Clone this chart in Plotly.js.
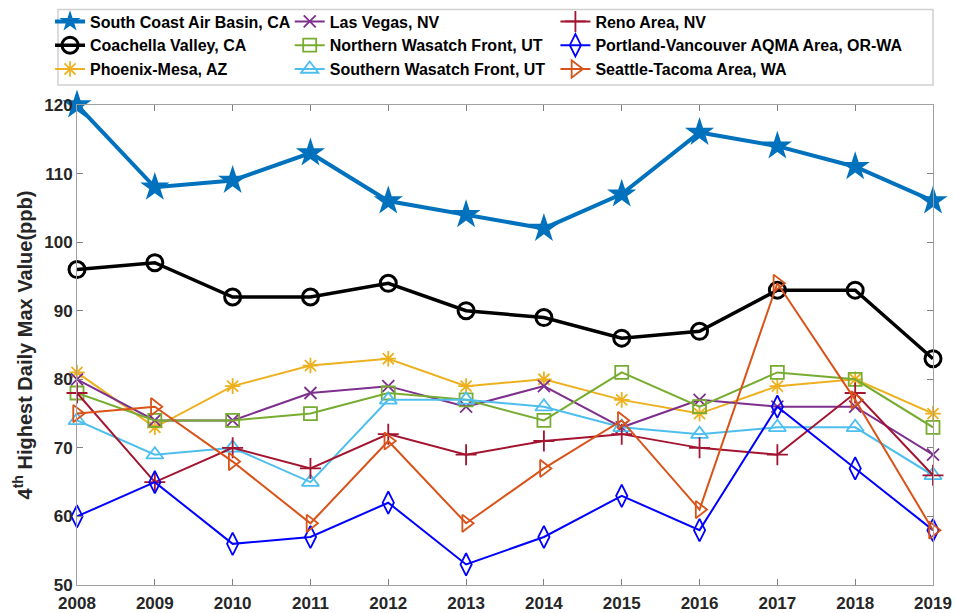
<!DOCTYPE html>
<html><head><meta charset="utf-8">
<script src="https://cdn.plot.ly/plotly-3.0.1.min.js"></script>
<style>body{margin:0;background:#fff}#chart{width:955px;height:613px}</style>
</head><body><div id="chart"></div>
<script>
const years = [2008,2009,2010,2011,2012,2013,2014,2015,2016,2017,2018,2019];
const southCoast = [120,108,109,113,106,104,102,107,116,114,111,106];
const coachella  = [96,97,92,92,94,90,89,86,87,93,93,83];
const phoenix    = [81,73,79,82,83,79,80,77,75,79,80,75];
const lasVegas   = [80,74,74,78,79,76,79,73,77,76,76,69];
const nWasatch   = [78,74,74,75,78,77,74,81,76,81,80,73];
const sWasatch   = [74,69,70,65,77,77,76,73,72,73,73,66];
const reno       = [78,65,70,67,72,69,71,72,70,69,78,66];
const portland   = [60,65,56,57,62,53,57,63,58,76,67,58];
const seattle    = [75,76,68,59,71,59,67,74,61,94,77,58];
const names = ["South Coast Air Basin, CA","Coachella Valley, CA","Phoenix-Mesa, AZ","Las Vegas, NV",
  "Northern Wasatch Front, UT","Southern Wasatch Front, UT","Reno Area, NV",
  "Portland-Vancouver AQMA Area, OR-WA","Seattle-Tacoma Area, WA"];
const yTicks = [50,60,70,80,90,100,110,120];

const FONT = "'Liberation Sans', Arial, sans-serif";
function tr(y, name, color, sym, lw, ms, mlw, leg){
  return {x: years, y: y, name: name, type:'scatter', mode:'lines+markers', cliponaxis:false,
    line:{color:color, width:lw},
    marker:{symbol:sym, size:ms, color:color, line:{color:color, width:mlw}},
    legend: leg, legendgroup: name};
}
const data = [
  tr(southCoast, names[0], '#0072BD', 'star', 4, 22, 0, 'legend'),
  tr(coachella,  names[1], '#000000', 'circle-open', 3.5, 16, 3, 'legend'),
  tr(phoenix,    names[2], '#EDB120', 'asterisk-open', 2, 13, 1.8, 'legend'),
  tr(lasVegas,   names[3], '#7E2F8E', 'x-thin-open', 2, 12, 1.8, 'legend2'),
  tr(nWasatch,   names[4], '#77AC30', 'square-open', 2, 13, 1.8, 'legend2'),
  tr(sWasatch,   names[5], '#4DBEEE', 'triangle-up-open', 2, 15, 1.8, 'legend2'),
  tr(reno,       names[6], '#A2142F', 'cross-thin-open', 2, 15, 1.8, 'legend3'),
  tr(portland,   names[7], '#0000FF', 'diamond-tall-open', 2, 16, 1.8, 'legend3'),
  tr(seattle,    names[8], '#D95319', 'triangle-right-open', 2, 15, 1.8, 'legend3')
];
const axisCommon = {showgrid:false, zeroline:false, showline:true, linecolor:'#a0a0a0', linewidth:1,
  mirror:'ticks', ticks:'inside', ticklen:6, tickcolor:'#808080',
  tickfont:{family:FONT, size:17, color:'#262626', weight:'bold'}};
function leg(x){
  return {orientation:'v', x:x, xanchor:'left', y:1.2094, yanchor:'top',
    font:{family:FONT, size:16, color:'#000', weight:'bold'},
    bgcolor:'rgba(0,0,0,0)', borderwidth:0, itemwidth:30, tracegroupgap:1, traceorder:'normal'};
}
const layout = {
  width:955, height:613, paper_bgcolor:'#fff', plot_bgcolor:'#fff',
  margin:{l:77, r:22, t:105, b:28, autoexpand:false},
  font:{family:FONT, color:'#000'},
  showlegend:true,
  legend: leg(-0.0315), legend2: leg(0.2485), legend3: leg(0.5589),
  xaxis:Object.assign({}, axisCommon, {range:[2008,2019], tickvals:years, ticktext:years.map(String),
    ticklabelstandoff:3}),
  yaxis:Object.assign({}, axisCommon, {range:[50,120], tickvals:yTicks,
    title:{text:'4<sup>th</sup> Highest Daily Max Value(ppb)', standoff:6,
      font:{family:FONT, size:20, color:'#262626', weight:'bold'}}}),
  shapes:[{type:'rect', xref:'paper', yref:'paper', x0:-0.0222, x1:1.0, y0:1.0415, y1:1.1992,
    line:{color:'#d0d0d0', width:1.5}, fillcolor:'rgba(0,0,0,0)', layer:'below'}]
};
Plotly.newPlot('chart', data, layout, {displayModeBar:false, staticPlot:true});
</script></body></html>
